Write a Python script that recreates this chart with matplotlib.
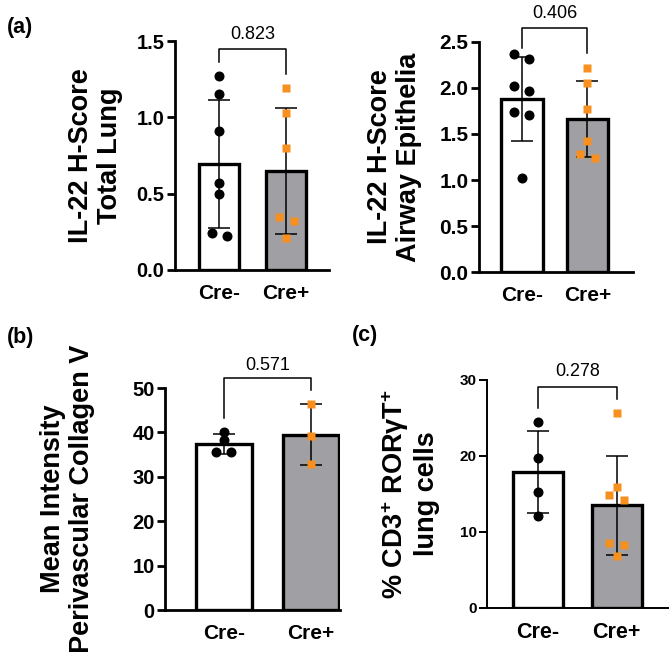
import numpy as np
import matplotlib
matplotlib.use("Agg")
import matplotlib.pyplot as plt

plt.rcParams['font.family'] = ['Liberation Sans', 'DejaVu Sans']
plt.rcParams['mathtext.fontset'] = 'custom'
plt.rcParams['mathtext.rm'] = 'Liberation Sans:bold'
plt.rcParams['mathtext.bf'] = 'Liberation Sans:bold'
plt.rcParams['mathtext.it'] = 'Liberation Sans:bold'

groups = ["Cre-", "Cre+"]

# (a) IL-22 H-score, total lung
lung_neg = [1.27, 1.15, 0.91, 0.57, 0.50, 0.24, 0.22]
lung_pos = [1.19, 1.03, 0.80, 0.35, 0.32, 0.21]
lung_p = "0.823"

# (a) IL-22 H-score, airway epithelia
airway_neg = [2.37, 2.32, 2.02, 1.97, 1.74, 1.71, 1.02]
airway_pos = [2.22, 2.05, 1.77, 1.42, 1.28, 1.24]
airway_p = "0.406"

# (b) perivascular collagen V
col_neg = [40.1, 38.2, 35.6, 35.6]
col_pos = [46.5, 39.2, 32.8]
col_p = "0.571"

# (c) % CD3+ RORgt+ lung cells
rorgt_neg = [24.5, 19.8, 15.3, 12.1]
rorgt_pos = [25.7, 15.9, 14.9, 14.2, 8.6, 8.3, 6.9]
rorgt_p = "0.278"

GREY = "#a0a0a4"
ORANGE = "#f7901e"

fig = plt.figure(figsize=(6.69, 6.52), dpi=100)


def swarm_offsets(ax, vals, gap_px=7.5, step_px=15):
    # prism-like: points closer than gap_px vertically share a row, centred
    y_px = ax.transData.transform([(0, v) for v in vals])[:, 1]
    unit = ax.transData.transform([(1, 0)])[0, 0] - ax.transData.transform([(0, 0)])[0, 0]
    order = np.argsort(-np.asarray(vals), kind="stable")
    rows = []
    for i in order:
        if rows and y_px[rows[-1][0]] - y_px[i] < gap_px:
            rows[-1].append(i)
        else:
            rows.append([i])
    offs = np.zeros(len(vals))
    for row in rows:
        n = len(row)
        for k, i in enumerate(row):
            offs[i] = (k - (n - 1) / 2) * step_px / unit
    return offs


def panel(rect, neg, pos, p, ylabel, yticks, fmt, bracket, label_x, xlim,
          width=0.62, ytick_fs=14.5, xtick_fs=15, spine_w=2.0, p_off=7.5):
    ax = fig.add_axes(rect)
    ax.set_xlim(*xlim)
    ax.set_ylim(yticks[0], yticks[-1])

    x = np.arange(2)
    means = [np.mean(neg), np.mean(pos)]
    sds = [np.std(neg, ddof=1), np.std(pos, ddof=1)]
    ax.bar(x, means, width=width, color=["white", GREY], edgecolor="black",
           linewidth=2.4, zorder=2)
    ax.errorbar(x, means, yerr=sds, fmt="none", ecolor="black", elinewidth=1.1,
                capsize=8, capthick=1.1, zorder=3)

    off = swarm_offsets(ax, neg)
    ax.plot(x[0] + off, neg, "o", color="black", ms=6.2, zorder=4, clip_on=False)
    off = swarm_offsets(ax, pos)
    ax.plot(x[1] + off, pos, "s", color=ORANGE, ms=5.4, mec="none", zorder=4, clip_on=False)

    top, lb, rb = bracket
    ax.plot([0, 0, 1, 1], [lb, top, top, rb], color="black", lw=1.1, clip_on=False)
    ax.annotate(p, xy=(0.5, top), xytext=(0, p_off), textcoords="offset points",
                ha="center", va="baseline", fontsize=13, annotation_clip=False)

    ax.set_yticks(yticks)
    ax.set_yticklabels([fmt.format(t) for t in yticks])
    ax.set_xticks(x)
    ax.set_xticklabels(groups)
    for lab in ax.get_yticklabels():
        lab.set_fontweight("bold")
        lab.set_fontsize(ytick_fs)
    for lab in ax.get_xticklabels():
        lab.set_fontweight("bold")
        lab.set_fontsize(xtick_fs)
    ax.tick_params(axis="y", length=6, width=spine_w, pad=1.5)
    ax.tick_params(axis="x", length=0, pad=10)

    for s in ["top", "right"]:
        ax.spines[s].set_visible(False)
    for s in ["left", "bottom"]:
        ax.spines[s].set_linewidth(spine_w)

    ax.set_ylabel(ylabel, fontsize=19.5, fontweight="bold", linespacing=1.15)
    ax.yaxis.set_label_coords(label_x, 0.5)
    return ax


panel([0.2616, 0.5859, 0.2302, 0.3512], lung_neg, lung_pos, lung_p,
      "IL-22 H-Score\nTotal Lung", [0, 0.5, 1.0, 1.5], "{:.1f}",
      (1.448, 1.362, 1.284), -0.338, (-0.657, 1.64), width=0.6)

panel([0.716, 0.5828, 0.2302, 0.3528], airway_neg, airway_pos, airway_p,
      "IL-22 H-Score\nAirway Epithelia", [0, 0.5, 1.0, 1.5, 2.0, 2.5], "{:.1f}",
      (2.652, 2.435, 2.38), -0.37, (-0.656, 1.695), width=0.63, ytick_fs=15)

panel([0.2466, 0.0644, 0.2616, 0.3405], col_neg, col_pos, col_p,
      "Mean Intensity\nPerivascular Collagen V", [0, 10, 20, 30, 40, 50], "{:.0f}",
      (52.25, 43.2, 49.5), -0.40, (-0.678, 1.333), width=0.64, p_off=6)

panel([0.728, 0.0675, 0.2706, 0.3497], rorgt_neg, rorgt_pos, rorgt_p,
      "% CD3$^{+}$ RORγT$^{+}$\nlung cells", [0, 10, 20, 30], "{:.0f}",
      (29.1, 26.3, 27.5), -0.26, (-0.65, 1.656), width=0.637,
      ytick_fs=11, xtick_fs=15.5, spine_w=1.4)

for txt, xp, yp in [("(a)", 7, 28), ("(b)", 7, 337), ("(c)", 352, 335)]:
    fig.text(xp / 669, 1 - yp / 652, txt, fontsize=15.5, fontweight="bold",
             ha="left", va="center")

fig.savefig("out.png", dpi=100)
